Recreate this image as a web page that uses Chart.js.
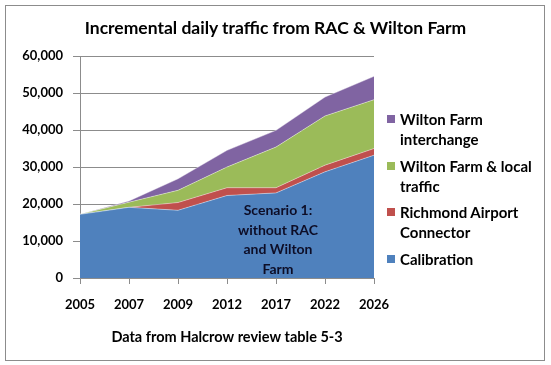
<!DOCTYPE html>
<html>
<head>
<meta charset="utf-8">
<script src="https://cdn.jsdelivr.net/npm/chart.js@4.4.0/dist/chart.umd.min.js"></script>
<style>
  body { margin: 0; background: #fff; font-family: Lato, "DejaVu Sans", sans-serif; }
  #wrap { position: relative; width: 551px; height: 365px; }
  #frame { position: absolute; left: 5px; top: 5px; width: 538px; height: 354px; border: 1.5px solid #8c8c8c; }
  #title { position: absolute; left: 0; width: 551px; top: 17px; text-align: center; font-weight: bold; font-size: 17.5px; color: #000; }
  #note { position: absolute; left: 208px; width: 140px; top: 200px; text-align: center; font-weight: bold; font-size: 14px; line-height: 19.5px; color: #0d0d26; }
  .leg { position: absolute; left: 400px; font-weight: bold; font-size: 15px; line-height: 20px; color: #000; }
  .leg i { position: absolute; left: -13px; top: 6px; width: 8px; height: 8px; }
  canvas { position: absolute; left: 0; top: 0; }
</style>
</head>
<body>
<div id="wrap">
  <div id="frame"></div>
  <canvas id="myChart" width="551" height="365"></canvas>
  <div id="title">Incremental daily traffic from RAC &amp; Wilton Farm</div>
  <div id="note">Scenario 1:<br>without RAC<br>and Wilton<br>Farm</div>
  <div id="legend"></div>
</div>
<script>
const years = ['2005', '2007', '2009', '2012', '2017', '2022', '2026'];
const calibration = [17200, 19100, 18300, 22300, 23000, 28700, 33200];
const airportConnector = [0, 0, 2100, 2100, 1400, 1800, 1800];
const wiltonLocal = [0, 1400, 3300, 5600, 11000, 13300, 13200];
const wiltonInterchange = [0, 300, 3100, 4500, 4500, 5100, 6300];
const yTicks = [0, 10000, 20000, 30000, 40000, 50000, 60000];

const series = [
  { label: 'Calibration', lines: ['Calibration'], data: calibration, color: '#4F81BD' },
  { label: 'Richmond Airport Connector', lines: ['Richmond Airport', 'Connector'], data: airportConnector, color: '#C0504D' },
  { label: 'Wilton Farm & local traffic', lines: ['Wilton Farm & local', 'traffic'], data: wiltonLocal, color: '#9BBB59' },
  { label: 'Wilton Farm interchange', lines: ['Wilton Farm', 'interchange'], data: wiltonInterchange, color: '#8064A2' }
];

// legend (reverse order, like Excel)
const legendTops = [109, 156, 202, 249];
const legend = document.getElementById('legend');
series.slice().reverse().forEach(function (s, i) {
  const d = document.createElement('div');
  d.className = 'leg';
  d.style.top = legendTops[i] + 'px';
  d.innerHTML = '<i style="background:' + s.color + '"></i>' + s.lines.map(function (t) {
    return t.replace('&', '&amp;');
  }).join('<br>');
  legend.appendChild(d);
});

const ctx = document.getElementById('myChart').getContext('2d');
const myChart = new Chart(ctx, {
  type: 'line',
  data: {
    labels: years,
    datasets: series.map(function (s, i) {
      return {
        label: s.label,
        data: s.data,
        backgroundColor: s.color,
        borderColor: 'rgba(255,255,255,0.5)',
        borderWidth: 0.8,
        pointRadius: 0,
        fill: i === 0 ? 'origin' : '-1',
        tension: 0
      };
    })
  },
  options: {
    responsive: false,
    animation: false,
    layout: { padding: { left: 0, right: 177, top: 56, bottom: 0 } },
    plugins: {
      legend: { display: false },
      tooltip: { enabled: false }
    },
    scales: {
      x: {
        offset: false,
        grid: { drawOnChartArea: false, color: '#8c8c8c', tickLength: 6 },
        border: { color: '#8c8c8c', width: 1 },
        ticks: { color: '#000', padding: 13, maxRotation: 0, font: { family: 'Lato', size: 13, weight: 'bold' } },
        title: {
          display: true,
          text: 'Data from Halcrow review table 5-3',
          color: '#000',
          font: { family: 'Lato', size: 14.5, weight: 'bold' },
          padding: { top: 0, bottom: 19 }
        },
        afterFit: function (s) { s.height = 87; }
      },
      y: {
        stacked: true,
        min: 0,
        max: 60000,
        afterBuildTicks: function (s) { s.ticks = yTicks.map(function (v) { return { value: v }; }); },
        grid: { color: '#8c8c8c', tickLength: 7 },
        border: { color: '#8c8c8c', width: 1 },
        ticks: {
          color: '#000',
          padding: 10,
          font: { family: 'Lato', size: 13, weight: 'bold' },
          callback: function (v) { return v.toLocaleString('en-US'); }
        },
        afterFit: function (s) { s.width = 80; }
      }
    }
  }
});
</script>
</body>
</html>
